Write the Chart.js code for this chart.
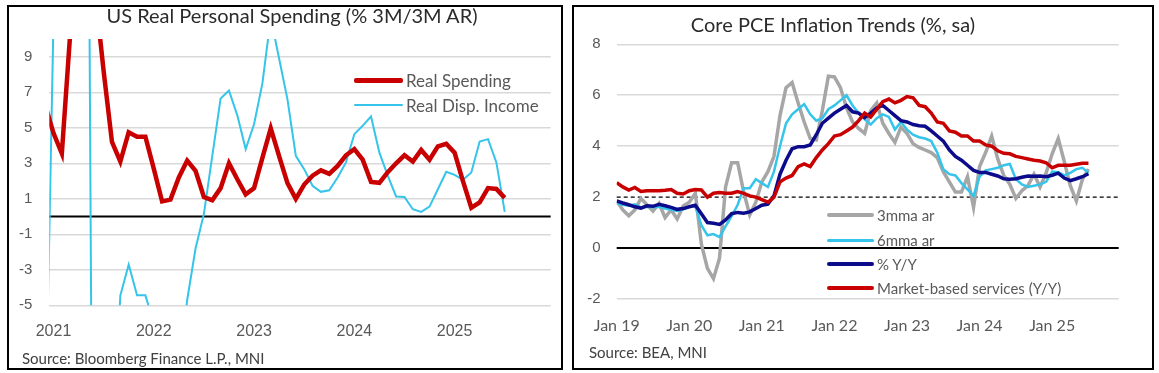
<!DOCTYPE html>
<html>
<head>
<meta charset="utf-8">
<script src="https://cdn.jsdelivr.net/npm/chart.js@4.4.1/dist/chart.umd.min.js"></script>
<style>
  body { margin: 0; width: 1159px; height: 373px; background: #fff; position: relative; overflow: hidden; font-family: Lato, 'Open Sans', sans-serif; }
  .panel { position: absolute; border: 2px solid #000; box-sizing: border-box; }
  canvas { position: absolute; }
  .title { position: absolute; color: #2b2b2b; font-size: 20px; height: 24px; line-height: 24px; white-space: nowrap; transform: translateX(-50%); }
  .source { position: absolute; color: #404040; font-size: 15px; height: 20px; line-height: 20px; white-space: nowrap; }
  .leg { position: absolute; display: flex; align-items: center; height: 20px; color: #595959; white-space: nowrap; }
  .leg i { display: inline-block; margin-right: 3px; border-radius: 2px; }
</style>
</head>
<body>
<div class="panel" style="left:7px;top:5px;width:556px;height:365px"></div>
<div class="panel" style="left:572px;top:5px;width:582px;height:365px"></div>

<canvas id="spendChart" width="552" height="361" style="left:9px;top:7px"></canvas>
<canvas id="pceChart" width="578" height="361" style="left:574px;top:7px"></canvas>

<div class="title" style="left:292px;top:3px">US Real Personal Spending (% 3M/3M AR)</div>
<div class="title" style="left:833px;top:12px">Core PCE Inflation Trends (%, sa)</div>
<div class="source" style="left:22px;top:348px">Source: Bloomberg Finance L.P., MNI</div>
<div class="source" style="left:589px;top:342px">Source: BEA, MNI</div>

<div class="leg" style="left:354px;top:70px;font-size:17px"><i style="width:49px;height:5px;background:#c80000"></i>Real Spending</div>
<div class="leg" style="left:354px;top:95px;font-size:17px"><i style="width:49px;height:2px;background:#35c4ea"></i>Real Disp. Income</div>

<div class="leg" style="left:827px;top:205px;font-size:15px"><i style="width:47px;height:4px;background:#a6a6a6"></i>3mma ar</div>
<div class="leg" style="left:827px;top:230px;font-size:15px"><i style="width:47px;height:3px;background:#35c4ea"></i>6mma ar</div>
<div class="leg" style="left:827px;top:254px;font-size:15px"><i style="width:47px;height:4px;background:#0b0b8c"></i>% Y/Y</div>
<div class="leg" style="left:827px;top:278px;font-size:15px"><i style="width:47px;height:4px;background:#c80000"></i>Market-based services (Y/Y)</div>

<script>
// left panel: monthly, first value is Dec 2020 (month index -1 from Jan 2021)
const spendFirstMonth = -1;
const spendYears = ['2021', '2022', '2023', '2024', '2025'];
const spendTicks = [-5, -3, -1, 1, 3, 5, 7, 9];
const realSpending = [
  6.3, 4.7, 3.55, 10.3, 20, 17, 12.6, 8.2, 4.2, 3.1, 4.75, 4.5, 4.5,
  2.7, 0.85, 0.95, 2.2, 3.15, 2.57, 1.1, 0.92, 1.6, 3.0, 2.1, 1.25,
  1.6, 3.3, 4.97, 3.4, 1.88, 1.0, 1.8, 2.3, 2.6, 2.4, 2.85, 3.45,
  3.8, 3.2, 1.95, 1.9, 2.5, 3.0, 3.45, 3.1, 3.75, 3.2, 3.95, 4.1,
  3.6, 2.0, 0.5, 0.8, 1.6, 1.55, 1.05
];
const realDispIncome = [
  -13, 11, 25, 45, 50, 36, -45, -20, -13.6, -4.45, -2.7, -4.44, -4.44,
  -6, -7, -8.5, -9, -4.7, -1.8, 0.15, 3.4, 6.65, 7.1, 5.7, 3.8,
  5.2, 7.5, 11.2, 8.9, 6.6, 3.42, 2.67, 1.73, 1.39, 1.48, 2.2, 3.05,
  4.64, 5.11, 5.64, 3.6, 2.3, 1.13, 1.1, 0.41, 0.26, 0.56, 1.54, 2.52,
  2.35, 2.07, 2.48, 4.23, 4.36, 3.05, 0.26
];

// right panel: monthly from Jan 2019
const pceTickLabels = ['Jan 19', 'Jan 20', 'Jan 21', 'Jan 22', 'Jan 23', 'Jan 24', 'Jan 25'];
const pceTicks = [-2, 0, 2, 4, 6, 8];
const pce3mma = [
  1.85, 1.5, 1.27, 1.5, 1.95, 1.7, 1.45, 1.75, 1.2, 1.5,
  1.14, 1.65, 1.8, 2.15, 0.15, -0.8, -1.2, -0.4, 2.4, 3.35,
  3.35, 2.2, 1.3, 1.8, 2.6, 3.0, 3.6, 5.2, 6.3, 6.5,
  5.7, 4.95, 4.3, 4.25, 5.4, 6.75, 6.72, 6.3, 5.5, 4.95,
  4.7, 4.5, 5.4, 5.7, 4.9, 4.5, 4.15, 4.75, 4.5, 4.1,
  3.95, 3.85, 3.75, 3.55, 3.0, 2.6, 2.2, 2.2, 2.8, 1.6,
  3.2, 3.75, 4.4, 3.5, 2.85, 2.5, 1.95, 2.25, 2.45, 2.9,
  2.4, 2.95, 3.7, 4.3, 3.4, 2.45, 1.85, 2.7, 3.1
];
const pce6mma = [
  1.76, 1.7, 1.66, 1.72, 1.6, 1.62, 1.6, 1.62, 1.55, 1.5,
  1.46, 1.52, 1.62, 1.64, 0.9, 0.5, 0.55, 0.43, 0.85, 1.25,
  1.7, 2.35, 2.35, 2.7, 2.55, 2.4, 3.0, 4.0, 4.9, 5.25,
  5.45, 5.65, 5.25, 5.0, 5.1, 5.45, 5.6, 5.8, 6.0, 5.6,
  5.3, 5.05, 4.85, 5.1, 5.25, 5.15, 4.65, 4.95, 4.65, 4.45,
  4.35, 4.3, 4.2, 3.75, 3.1, 2.9, 2.85, 2.55, 2.3, 2.05,
  2.8, 3.05, 3.1, 3.15, 3.25, 3.3, 2.7, 2.5, 2.4, 2.45,
  2.5, 2.6, 3.0, 2.98, 2.85, 2.95, 3.1, 3.15, 2.95
];
const pceYoY = [
  1.85, 1.77, 1.7, 1.62, 1.57, 1.66, 1.64, 1.72, 1.66, 1.6,
  1.52, 1.55, 1.62, 1.68, 1.35, 1.0, 0.97, 0.93, 1.1, 1.35,
  1.4, 1.37, 1.42, 1.55, 1.68, 1.72, 2.05, 2.9, 3.45, 3.9,
  3.98, 3.98, 4.05, 4.45, 4.9, 5.1, 5.3, 5.45, 5.6, 5.35,
  5.3, 5.12, 5.3, 5.5, 5.6, 5.4, 5.2, 5.0, 4.95, 4.85,
  4.8, 4.78, 4.6, 4.4, 4.2, 3.85, 3.6, 3.45, 3.25, 3.05,
  2.97, 2.97, 2.9, 2.83, 2.72, 2.7, 2.72, 2.78, 2.83, 2.82,
  2.83, 2.8, 2.86, 2.94, 2.75, 2.65, 2.72, 2.8, 2.92
];
const marketServices = [
  2.57, 2.4, 2.28, 2.38, 2.22, 2.25, 2.25, 2.25, 2.27, 2.3,
  2.15, 2.12, 2.25, 2.3, 2.28, 2.0, 2.15, 2.18, 2.15, 2.15,
  2.22, 2.15, 2.05, 2.0, 1.9, 1.8, 2.0, 2.6, 2.75, 2.85,
  3.2, 3.3, 3.2, 3.55, 3.85, 4.1, 4.4, 4.45, 4.6, 4.75,
  5.0, 5.3, 5.15, 5.45, 5.75, 5.85, 5.7, 5.8, 5.95, 5.9,
  5.6, 5.55, 5.3, 4.95, 4.9, 4.6, 4.55, 4.4, 4.4, 4.2,
  4.2, 4.05, 4.0, 3.82, 3.72, 3.7, 3.6, 3.55, 3.5, 3.45,
  3.42, 3.35, 3.15, 3.25, 3.25, 3.25, 3.29, 3.33, 3.33
];

const tickColor = '#595959';
const gridColor = '#d9d9d9';

const toPoints = (vals, first) => vals.map((v, i) => ({ x: first + i, y: v }));

// horizontal reference lines (zero line, 2% target)
const refLines = {
  id: 'refLines',
  beforeDatasetsDraw(chart, args, opts) {
    const { ctx, chartArea, scales } = chart;
    (opts.lines || []).forEach(l => {
      const py = scales.y.getPixelForValue(l.value);
      ctx.save();
      ctx.strokeStyle = l.color;
      ctx.lineWidth = l.width;
      ctx.setLineDash(l.dash || []);
      ctx.beginPath();
      ctx.moveTo(chartArea.left, py);
      ctx.lineTo(chartArea.right, py);
      ctx.stroke();
      ctx.restore();
    });
  }
};

function lineSet(label, data, color, width, order) {
  return { label, data, borderColor: color, borderWidth: width, pointRadius: 0, tension: 0, clip: 0, order };
}

new Chart(document.getElementById('spendChart'), {
  type: 'line',
  data: {
    datasets: [
      lineSet('Real Spending', toPoints(realSpending, spendFirstMonth), '#c80000', 4.5, 1),
      lineSet('Real Disp. Income', toPoints(realDispIncome, spendFirstMonth), '#35c4ea', 2, 2)
    ]
  },
  options: {
    responsive: false, animation: false, events: [],
    layout: { padding: { top: 32, right: 10.3, left: 0, bottom: 0 } },
    plugins: {
      legend: { display: false }, tooltip: { enabled: false },
      refLines: { lines: [{ value: 0, color: '#000', width: 2 }] }
    },
    scales: {
      x: {
        type: 'linear', min: -0.5, max: 59.5,
        afterBuildTicks: s => { s.ticks = spendYears.map((_, i) => ({ value: i * 12 })); },
        afterFit: s => { s.height = 62.7; },
        grid: { display: false }, border: { display: false },
        ticks: { callback: (v, i) => spendYears[i], color: tickColor, padding: 9, maxRotation: 0,
                 font: { family: 'Liberation Sans', size: 16 } }
      },
      y: {
        min: -5, max: 10,
        afterBuildTicks: s => { s.ticks = spendTicks.map(v => ({ value: v })); },
        afterFit: s => { s.width = 40.3; },
        grid: { color: gridColor, lineWidth: 1.5, drawTicks: false }, border: { display: false },
        ticks: { color: tickColor, padding: 17, font: { family: 'Liberation Sans', size: 15 } }
      }
    }
  },
  plugins: [refLines]
});

new Chart(document.getElementById('pceChart'), {
  type: 'line',
  data: {
    datasets: [
      lineSet('3mma ar', toPoints(pce3mma, 0), '#a6a6a6', 3.5, 4),
      lineSet('6mma ar', toPoints(pce6mma, 0), '#35c4ea', 2.5, 3),
      lineSet('% Y/Y', toPoints(pceYoY, 0), '#0b0b8c', 3.5, 2),
      lineSet('Market-based services (Y/Y)', toPoints(marketServices, 0), '#c80000', 3.5, 1)
    ]
  },
  options: {
    responsive: false, animation: false, events: [],
    layout: { padding: { top: 37.3, right: 33.3, left: 0, bottom: 0 } },
    plugins: {
      legend: { display: false }, tooltip: { enabled: false },
      refLines: { lines: [
        { value: 0, color: '#000', width: 2 },
        { value: 2, color: '#000', width: 1.3, dash: [4, 3] }
      ] }
    },
    scales: {
      x: {
        type: 'linear', min: 0, max: 83,
        afterBuildTicks: s => { s.ticks = pceTickLabels.map((_, i) => ({ value: i * 12 })); },
        afterFit: s => { s.height = 69; },
        grid: { display: false }, border: { display: false },
        ticks: { callback: (v, i) => pceTickLabels[i], color: tickColor, padding: 9, maxRotation: 0,
                 font: { family: 'Lato', size: 16 } }
      },
      y: {
        min: -2, max: 8,
        afterBuildTicks: s => { s.ticks = pceTicks.map(v => ({ value: v })); },
        afterFit: s => { s.width = 42.7; },
        grid: { color: c => (c.tick && (c.tick.value === 0 || c.tick.value === 2)) ? 'rgba(0,0,0,0)' : gridColor,
                lineWidth: 1.5, drawTicks: false },
        border: { display: false },
        ticks: { color: tickColor, padding: 16, font: { family: 'Liberation Sans', size: 15 } }
      }
    }
  },
  plugins: [refLines]
});
</script>
</body>
</html>
